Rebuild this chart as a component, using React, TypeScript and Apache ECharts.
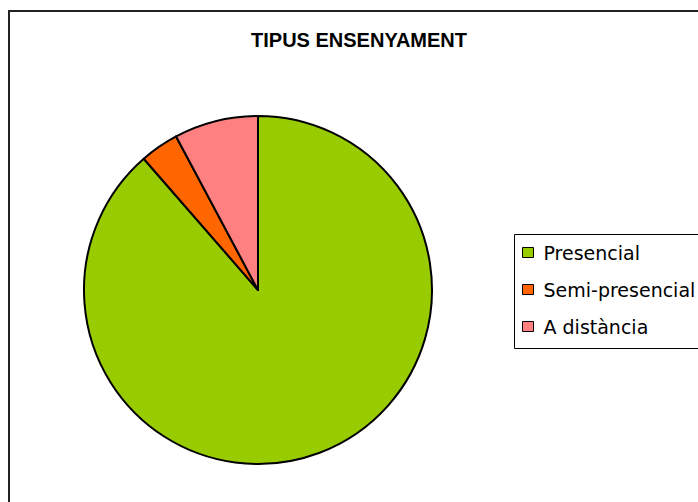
import React, { useEffect, useRef } from "react";
import * as echarts from "echarts";

const titleText = "TIPUS ENSENYAMENT";
const categories = ["Presencial", "Semi-presencial", "A distància"];
const values = [88.6, 3.6, 7.8];
const colors = ["#99CC00", "#FF6600", "#FF8080"];

export default function App() {
  const ref = useRef<HTMLDivElement>(null);
  useEffect(() => {
    if (!ref.current) return;
    const chart = echarts.init(ref.current, undefined, { renderer: "svg" });
    chart.setOption({
      animation: false,
      backgroundColor: "#ffffff",
      title: {
        text: titleText,
        left: 359,
        top: 30,
        textAlign: "center",
        textStyle: {
          fontFamily: "Liberation Sans",
          fontWeight: "bold",
          fontSize: 20,
          color: "#000",
        },
        padding: 0,
      },
      graphic: [
        {
          type: "rect",
          shape: { x: 9, y: 11, width: 720, height: 520 },
          style: { fill: "none", stroke: "#222", lineWidth: 2 },
          silent: true,
          z: -1,
        },
        {
          type: "rect",
          shape: { x: 514.5, y: 234.5, width: 220, height: 114 },
          style: { fill: "#fff", stroke: "#000", lineWidth: 1 },
          silent: true,
          z: -1,
        },
      ],
      legend: {
        orient: "vertical",
        left: 522,
        top: 243,
        padding: 0,
        itemWidth: 11,
        itemHeight: 10,
        itemGap: 18,
        icon: "rect",
        selectedMode: false,
        itemStyle: { borderColor: "#000", borderWidth: 1 },
        textStyle: {
          fontFamily: "DejaVu Sans",
          fontSize: 19,
          color: "#000",
          padding: [0, 0, 0, 5],
        },
        data: categories,
      },
      series: [
        {
          type: "pie",
          center: [258, 290],
          radius: 174,
          startAngle: 90,
          clockwise: true,
          label: { show: false },
          labelLine: { show: false },
          emphasis: { disabled: true },
          itemStyle: { borderColor: "#000", borderWidth: 2 },
          data: categories.map((name, i) => ({
            name,
            value: values[i],
            itemStyle: { color: colors[i] },
          })),
        },
      ],
    });
    return () => chart.dispose();
  }, []);
  return (
    <div
      ref={ref}
      style={{ position: "absolute", left: 0, top: 0, width: 698, height: 502 }}
    />
  );
}
